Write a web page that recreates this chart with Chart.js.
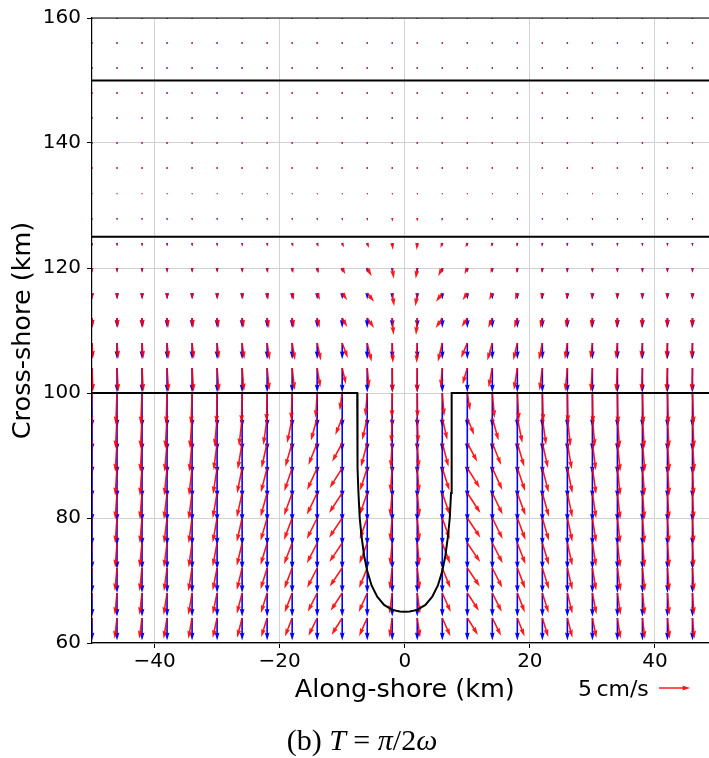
<!DOCTYPE html>
<html>
<head>
<meta charset="utf-8">
<script src="https://cdn.jsdelivr.net/npm/chart.js@4.4.1/dist/chart.umd.min.js"></script>
<style>
  html, body { margin: 0; padding: 0; background: #fff; overflow: hidden; }
  #wrap { position: relative; width: 709px; height: 758px; overflow: hidden; }
  canvas { position: absolute; left: 0; top: 0; }
  #keylabel { position: absolute; left: 578px; top: 678px; font: 22px 'DejaVu Sans'; line-height: 22px; color: #000; white-space: nowrap; }
  #caption { position: absolute; left: 0; width: 724px; top: 725px; text-align: center; font: 30px 'Liberation Serif'; line-height: 30px; color: #000; white-space: nowrap; }
</style>
</head>
<body>
<div id="wrap">
  <canvas id="c" width="720" height="758"></canvas>
  <div id="keylabel">5&#8201;cm/s</div>
  <div id="caption">(b) <i>T</i> = <i>π</i>/2<i>ω</i></div>
</div>
<script>
// Sample grid (km)
const xs = [-50,-46,-42,-38,-34,-30,-26,-22,-18,-14,-10,-6,-2,2,6,10,14,18,22,26,30,34,38,42,46,50];
const ys = [160,156,152,148,144,140,136,132,128,124,120,116,112,108,104,100,96,92,88,84,80,76,72,68,64,60];

// Flat-shelf reference current: cross-shore component per row (cm/s), along-shore component is zero
const blueV = [-0.05,-0.06,-0.08,-0.1,-0.12,-0.15,-0.2,-0.28,-0.4,-0.55,-0.75,-1.05,-1.6,-2.6,-3.9,-5.5,-5.3,-5.05,-4.85,-4.6,-4.4,-4.2,-4.0,-3.8,-3.6,-3.4];

// Current with the canyon: along-shore component (cm/s), one row per entry of ys
const redU = [
  [0,0,0,0,0,0,0,0,0,0,0,0,0,0,0,0,0,0,0,0,0,0,0,0,0,0],
  [0,0,0,0,0,0,0,0,0,0,0,0,0,0,0,0,0,0,0,0,0,0,0,0,0,0],
  [0,0,0,0,0,0,0,0,0,0,0,0,0,0,0,0,0,0,0,0,0,0,0,0,0,0],
  [0,0,0,0,0,0,0,0,0,0,0,0,0,0,0,0,0,0,0,0,0,0,0,0,0,0],
  [0,0,0,0,0,0,0,0,0,0,0,0,0,0,0,0,0,0,0,0,0,0,0,0,0,0],
  [0,0,0,0,0,0,0,0,0,0,0,0,0,0,0,0,0,0,0,0,0,0,0,0,0,0],
  [0,0,0,0,0,0,0,0,0,0,0,0,0,0,0,0,0,0,0,0,0,0,0,0,0,0],
  [0,0,0,0,0,0,0,0,0,0,0.05,0.05,0,0,-0.05,-0.05,0,0,0,0,0,0,0,0,0,0],
  [0,0,0,0,0,0,0,0.02,0.03,0.05,0.1,0.1,0.03,-0.03,-0.1,-0.1,-0.05,-0.03,-0.02,0,0,0,0,0,0,0],
  [0.05,0.05,0.05,0.05,0.05,0.1,0.1,0.15,0.2,0.25,0.3,0.3,0.1,-0.1,-0.3,-0.3,-0.25,-0.2,-0.15,-0.1,-0.1,-0.05,-0.05,-0.05,-0.05,-0.05],
  [0.05,0.05,0.05,0.05,0.05,0.1,0.1,0.15,0.2,0.3,0.5,0.7,0.25,-0.25,-0.65,-0.45,-0.3,-0.2,-0.15,-0.1,-0.05,-0.05,-0.05,-0.05,-0.05,-0.05],
  [0.05,0.05,0.05,0.05,0.05,0.1,0.15,0.2,0.3,0.45,0.8,1.1,0.3,-0.3,-1.0,-0.75,-0.5,-0.35,-0.2,-0.15,-0.1,-0.05,-0.05,-0.05,-0.05,-0.05],
  [0.1,0.15,0.15,0.2,0.2,0.25,0.3,0.3,0.3,0.4,0.8,1.1,0.2,-0.2,-1.05,-0.9,-0.65,-0.5,-0.35,-0.25,-0.2,-0.15,-0.15,-0.1,-0.1,-0.1],
  [0.15,0.2,0.2,0.25,0.3,0.3,0.35,0.4,0.45,0.6,0.9,0.7,0.1,-0.1,-0.7,-1.0,-0.8,-0.65,-0.55,-0.4,-0.3,-0.25,-0.2,-0.15,-0.15,-0.1],
  [0.15,0.2,0.2,0.25,0.25,0.3,0.3,0.35,0.4,0.5,0.6,0.3,0.05,-0.05,-0.25,-0.75,-0.6,-0.55,-0.45,-0.35,-0.25,-0.2,-0.15,-0.15,-0.1,-0.1],
  [-0.2,-0.2,-0.2,-0.15,-0.15,-0.1,-0.1,-0.1,-0.15,-0.25,-0.4,-0.3,-0.05,0.05,0.3,0.45,0.35,0.25,0.15,0.1,0.1,0.1,0.15,0.15,0.2,0.2],
  [-0.2,-0.25,-0.25,-0.3,-0.35,-0.4,-0.5,-0.6,-0.8,-1.0,-1.1,-0.8,-0.15,0.15,0.8,1.1,1.0,0.8,0.6,0.5,0.4,0.35,0.3,0.25,0.25,0.2],
  [-0.25,-0.3,-0.3,-0.4,-0.45,-0.55,-0.7,-0.9,-1.1,-1.4,-1.6,-1.0,-0.25,0.25,1.0,1.6,1.4,1.1,0.9,0.7,0.55,0.45,0.4,0.3,0.3,0.25],
  [-0.3,-0.3,-0.35,-0.45,-0.5,-0.65,-0.8,-1.0,-1.25,-1.6,-2.0,-1.15,-0.3,0.3,1.15,2.0,1.6,1.25,1.0,0.8,0.6,0.45,0.35,0.3,0.2,0.2],
  [-0.3,-0.3,-0.35,-0.5,-0.55,-0.7,-0.85,-1.05,-1.3,-1.65,-2.1,-1.2,-0.35,0.35,1.2,2.1,1.65,1.3,1.05,0.8,0.6,0.45,0.35,0.25,0.2,0.2],
  [-0.3,-0.3,-0.35,-0.5,-0.55,-0.7,-0.85,-1.05,-1.3,-1.65,-2.1,-1.2,-0.35,0.35,1.2,2.1,1.65,1.3,1.05,0.8,0.6,0.45,0.35,0.25,0.2,0.2],
  [-0.3,-0.3,-0.4,-0.5,-0.55,-0.7,-0.85,-1.05,-1.3,-1.65,-2.05,-1.25,-0.35,0.35,1.25,2.05,1.65,1.3,1.05,0.8,0.6,0.45,0.35,0.3,0.2,0.2],
  [-0.3,-0.35,-0.4,-0.5,-0.6,-0.7,-0.85,-1.05,-1.25,-1.6,-2.0,-1.3,-0.4,0.4,1.3,2.0,1.6,1.25,1.05,0.8,0.6,0.5,0.4,0.3,0.25,0.2],
  [-0.35,-0.35,-0.4,-0.55,-0.6,-0.7,-0.85,-1.0,-1.2,-1.5,-1.85,-1.35,-0.45,0.45,1.35,1.85,1.5,1.2,1.0,0.8,0.65,0.5,0.4,0.3,0.25,0.25],
  [-0.35,-0.4,-0.45,-0.55,-0.6,-0.7,-0.8,-0.95,-1.15,-1.4,-1.7,-1.3,-0.45,0.45,1.3,1.7,1.4,1.15,0.95,0.8,0.65,0.5,0.4,0.35,0.3,0.25],
  [-0.35,-0.4,-0.45,-0.55,-0.6,-0.7,-0.8,-0.9,-1.1,-1.3,-1.55,-1.2,-0.4,0.4,1.2,1.55,1.3,1.1,0.9,0.75,0.65,0.5,0.4,0.35,0.3,0.25]
];

// Current with the canyon: cross-shore component (cm/s)
const redV = [
  [-0.05,-0.05,-0.05,-0.05,-0.05,-0.05,-0.05,-0.05,-0.05,-0.05,-0.05,-0.05,-0.05,-0.05,-0.05,-0.05,-0.05,-0.05,-0.05,-0.05,-0.05,-0.05,-0.05,-0.05,-0.05,-0.05],
  [-0.06,-0.06,-0.06,-0.06,-0.06,-0.06,-0.06,-0.06,-0.06,-0.06,-0.06,-0.06,-0.06,-0.06,-0.06,-0.06,-0.06,-0.06,-0.06,-0.06,-0.06,-0.06,-0.06,-0.06,-0.06,-0.06],
  [-0.08,-0.08,-0.08,-0.08,-0.08,-0.08,-0.08,-0.08,-0.08,-0.08,-0.08,-0.08,-0.08,-0.08,-0.08,-0.08,-0.08,-0.08,-0.08,-0.08,-0.08,-0.08,-0.08,-0.08,-0.08,-0.08],
  [-0.1,-0.1,-0.1,-0.1,-0.1,-0.1,-0.1,-0.1,-0.1,-0.1,-0.1,-0.1,-0.1,-0.1,-0.1,-0.1,-0.1,-0.1,-0.1,-0.1,-0.1,-0.1,-0.1,-0.1,-0.1,-0.1],
  [-0.12,-0.12,-0.12,-0.12,-0.12,-0.12,-0.12,-0.12,-0.12,-0.12,-0.12,-0.12,-0.12,-0.12,-0.12,-0.12,-0.12,-0.12,-0.12,-0.12,-0.12,-0.12,-0.12,-0.12,-0.12,-0.12],
  [-0.15,-0.15,-0.15,-0.15,-0.15,-0.15,-0.15,-0.15,-0.15,-0.15,-0.15,-0.15,-0.15,-0.15,-0.15,-0.15,-0.15,-0.15,-0.15,-0.15,-0.15,-0.15,-0.15,-0.15,-0.15,-0.15],
  [-0.2,-0.2,-0.2,-0.2,-0.2,-0.2,-0.2,-0.2,-0.2,-0.2,-0.2,-0.2,-0.25,-0.25,-0.2,-0.2,-0.2,-0.2,-0.2,-0.2,-0.2,-0.2,-0.2,-0.2,-0.2,-0.2],
  [-0.28,-0.28,-0.28,-0.28,-0.28,-0.28,-0.28,-0.28,-0.28,-0.28,-0.28,-0.3,-0.35,-0.35,-0.3,-0.28,-0.28,-0.28,-0.28,-0.28,-0.28,-0.28,-0.28,-0.28,-0.28,-0.28],
  [-0.38,-0.38,-0.38,-0.38,-0.38,-0.38,-0.38,-0.38,-0.38,-0.4,-0.42,-0.48,-0.6,-0.6,-0.48,-0.42,-0.4,-0.38,-0.38,-0.38,-0.38,-0.38,-0.38,-0.38,-0.38,-0.38],
  [-0.5,-0.5,-0.5,-0.5,-0.5,-0.5,-0.5,-0.55,-0.55,-0.6,-0.7,-0.8,-1.1,-1.1,-0.8,-0.7,-0.6,-0.55,-0.55,-0.5,-0.5,-0.5,-0.5,-0.5,-0.5,-0.5],
  [-0.7,-0.7,-0.7,-0.7,-0.7,-0.7,-0.7,-0.75,-0.8,-0.85,-1.0,-1.3,-1.7,-1.7,-1.3,-1.0,-0.85,-0.8,-0.75,-0.7,-0.7,-0.7,-0.7,-0.7,-0.7,-0.7],
  [-1.0,-1.0,-1.0,-1.0,-1.0,-1.0,-1.0,-1.05,-1.1,-1.1,-1.15,-1.4,-2.1,-2.1,-1.4,-1.15,-1.1,-1.1,-1.05,-1.0,-1.0,-1.0,-1.0,-1.0,-1.0,-1.0],
  [-1.55,-1.55,-1.55,-1.55,-1.55,-1.55,-1.55,-1.6,-1.6,-1.55,-1.45,-1.6,-2.7,-2.7,-1.6,-1.45,-1.55,-1.6,-1.6,-1.55,-1.55,-1.55,-1.55,-1.55,-1.55,-1.55],
  [-2.5,-2.5,-2.5,-2.5,-2.5,-2.5,-2.6,-2.7,-2.75,-2.8,-2.4,-3.0,-3.2,-3.2,-3.0,-2.4,-2.8,-2.75,-2.7,-2.6,-2.5,-2.5,-2.5,-2.5,-2.5,-2.5],
  [-3.8,-3.8,-3.8,-3.8,-3.8,-3.8,-3.7,-3.6,-3.5,-3.1,-2.6,-3.1,-3.9,-3.9,-3.1,-2.6,-3.1,-3.5,-3.6,-3.7,-3.8,-3.8,-3.8,-3.8,-3.8,-3.8],
  [-5.0,-5.0,-5.0,-5.0,-5.0,-4.9,-4.8,-4.6,-4.4,-4.0,-2.8,-3.7,-4.0,-4.0,-3.7,-2.8,-4.0,-4.4,-4.6,-4.8,-4.9,-5.0,-5.0,-5.0,-5.0,-5.0],
  [-4.85,-4.85,-4.85,-4.85,-4.85,-4.6,-4.5,-4.3,-4.0,-3.6,-2.7,-3.5,-4.0,-4.0,-3.5,-2.7,-3.6,-4.0,-4.3,-4.5,-4.6,-4.85,-4.85,-4.85,-4.85,-4.85],
  [-4.6,-4.6,-4.6,-4.6,-4.6,-4.35,-4.2,-4.0,-3.8,-3.5,-3.0,-3.8,-4.0,-4.0,-3.8,-3.0,-3.5,-3.8,-4.0,-4.2,-4.35,-4.6,-4.6,-4.6,-4.6,-4.6],
  [-4.4,-4.4,-4.4,-4.4,-4.4,-4.2,-4.05,-3.9,-3.7,-3.5,-3.2,-3.6,-3.9,-3.9,-3.6,-3.2,-3.5,-3.7,-3.9,-4.05,-4.2,-4.4,-4.4,-4.4,-4.4,-4.4],
  [-4.2,-4.2,-4.2,-4.2,-4.2,-4.05,-3.9,-3.8,-3.6,-3.45,-3.2,-3.5,-3.8,-3.8,-3.5,-3.2,-3.45,-3.6,-3.8,-3.9,-4.05,-4.2,-4.2,-4.2,-4.2,-4.2],
  [-4.05,-4.05,-4.05,-4.05,-4.05,-3.9,-3.8,-3.65,-3.5,-3.35,-3.15,-3.4,-3.7,-3.7,-3.4,-3.15,-3.35,-3.5,-3.65,-3.8,-3.9,-4.05,-4.05,-4.05,-4.05,-4.05],
  [-3.9,-3.9,-3.9,-3.9,-3.9,-3.75,-3.65,-3.5,-3.4,-3.25,-3.05,-3.3,-3.6,-3.6,-3.3,-3.05,-3.25,-3.4,-3.5,-3.65,-3.75,-3.9,-3.9,-3.9,-3.9,-3.9],
  [-3.7,-3.7,-3.7,-3.7,-3.7,-3.6,-3.5,-3.4,-3.3,-3.15,-2.95,-3.2,-3.45,-3.45,-3.2,-2.95,-3.15,-3.3,-3.4,-3.5,-3.6,-3.7,-3.7,-3.7,-3.7,-3.7],
  [-3.5,-3.5,-3.5,-3.5,-3.5,-3.4,-3.3,-3.2,-3.1,-3.0,-2.85,-3.05,-3.3,-3.3,-3.05,-2.85,-3.0,-3.1,-3.2,-3.3,-3.4,-3.5,-3.5,-3.5,-3.5,-3.5],
  [-3.3,-3.3,-3.3,-3.3,-3.3,-3.2,-3.15,-3.05,-2.95,-2.85,-2.7,-2.9,-3.1,-3.1,-2.9,-2.7,-2.85,-2.95,-3.05,-3.15,-3.2,-3.3,-3.3,-3.3,-3.3,-3.3],
  [-3.1,-3.1,-3.1,-3.1,-3.1,-3.0,-2.95,-2.9,-2.8,-2.7,-2.6,-2.75,-2.9,-2.9,-2.75,-2.6,-2.7,-2.8,-2.9,-2.95,-3.0,-3.1,-3.1,-3.1,-3.1,-3.1]
];

// Isobaths (km): shelf edge with the canyon, and two offshore contours
const coastX = [-50,-7.6,-7.6,-7.5,-7.4,-7.2,-6.9,-6.5,-6.0,-5.3,-4.4,-3.3,-2.0,-0.8,0,0.8,2.0,3.3,4.4,5.3,6.0,6.5,6.9,7.2,7.4,7.5,7.5,50];
const coastY = [100,100,94,88,84,80,77,74,71.5,69.2,67.4,66.1,65.3,65.05,65,65.05,65.3,66.1,67.4,69.2,71.5,74,77,80,84,88,100,100];
const isobathY = [125, 150];

const xTicks = [-40,-20,0,20,40];
const yTicks = [60,80,100,120,140,160];

// Quiver settings: arrow length in km per cm/s, reference arrow value
const KM_PER_CMS = 1.0;
const KEY_VALUE = 5;
const SHAFT = 1.6, HEAD_W = 3, HEAD_LEN = 5, HEAD_AXIS = 4.5;
const BLUE = 'rgba(0,0,255,1)';
const RED = 'rgba(255,0,0,0.9)';

function drawArrow(ctx, x0, y0, x1, y1, color) {
  const dx = x1 - x0, dy = y1 - y0;
  const L = Math.hypot(dx, dy);
  ctx.fillStyle = color;
  if (L < SHAFT) {
    ctx.beginPath();
    for (let k = 0; k < 6; k++) {
      const a = Math.PI / 3 * k;
      const px = x0 + 0.5 * SHAFT * Math.cos(a), py = y0 + 0.5 * SHAFT * Math.sin(a);
      k ? ctx.lineTo(px, py) : ctx.moveTo(px, py);
    }
    ctx.closePath(); ctx.fill();
    return;
  }
  const hl = HEAD_LEN * SHAFT, hal = HEAD_AXIS * SHAFT, hw = HEAD_W * SHAFT / 2, sw = SHAFT / 2;
  let s = 1, len = L;
  if (L < hl) { s = L / hl; len = hl; }
  const pts = [[0, -sw], [len - hal, -sw], [len - hl, -hw], [len, 0], [len - hl, hw], [len - hal, sw], [0, sw]];
  const c = dx / L, sn = dy / L;
  ctx.beginPath();
  pts.forEach(([px, py], i) => {
    const X = x0 + s * (px * c - py * sn), Y = y0 + s * (px * sn + py * c);
    i ? ctx.lineTo(X, Y) : ctx.moveTo(X, Y);
  });
  ctx.closePath();
  ctx.fill();
}

const quiverPlugin = {
  id: 'quiver',
  beforeDatasetsDraw(chart) {
    const { ctx, chartArea: a, scales: { x: sx, y: sy } } = chart;
    ctx.save();
    ctx.beginPath();
    ctx.rect(a.left, a.top, a.right - a.left, a.bottom - a.top);
    ctx.clip();
    ys.forEach((y, r) => xs.forEach((x) => {
      drawArrow(ctx, sx.getPixelForValue(x), sy.getPixelForValue(y),
        sx.getPixelForValue(x), sy.getPixelForValue(y + blueV[r] * KM_PER_CMS), BLUE);
    }));
    ys.forEach((y, r) => xs.forEach((x, c) => {
      drawArrow(ctx, sx.getPixelForValue(x), sy.getPixelForValue(y),
        sx.getPixelForValue(x + redU[r][c] * KM_PER_CMS), sy.getPixelForValue(y + redV[r][c] * KM_PER_CMS), RED);
    }));
    ctx.restore();
  },
  afterDraw(chart) {
    const { ctx, chartArea: a, scales: { x: sx } } = chart;
    ctx.save();
    ctx.strokeStyle = '#000';
    ctx.lineWidth = 1.2;
    ctx.beginPath();
    ctx.moveTo(a.left, a.top); ctx.lineTo(a.right, a.top);
    ctx.moveTo(a.right, a.top); ctx.lineTo(a.right, a.bottom);
    ctx.stroke();
    // reference arrow
    const keyLen = sx.getPixelForValue(KEY_VALUE * KM_PER_CMS) - sx.getPixelForValue(0);
    const kx = a.right - 58.5, ky = a.bottom + 45;
    drawArrow(ctx, kx, ky, kx + keyLen, ky, RED);
    ctx.restore();
  }
};

const lineStyle = { showLine: true, borderColor: '#000', borderWidth: 2, pointRadius: 0, fill: false, tension: 0 };
const datasets = [
  Object.assign({ data: coastX.map((x, i) => ({ x, y: coastY[i] })) }, lineStyle),
  ...isobathY.map(y => Object.assign({ data: [{ x: -50, y }, { x: 50, y }] }, lineStyle))
];

const fmt = v => (v < 0 ? '\u2212' + Math.abs(v) : String(v));
const tickFont = { family: 'DejaVu Sans', size: 20 };
const titleFont = { family: 'DejaVu Sans', size: 25.5 };

new Chart(document.getElementById('c'), {
  type: 'scatter',
  data: { datasets },
  options: {
    responsive: false,
    animation: false,
    devicePixelRatio: 1,
    layout: { padding: { left: 0, right: 2.5, top: 18, bottom: 0 } },
    plugins: { legend: { display: false }, tooltip: { enabled: false } },
    scales: {
      x: {
        type: 'linear', min: -50, max: 50,
        afterBuildTicks: s => { s.ticks = xTicks.map(v => ({ value: v })); },
        afterFit: s => { s.height = 115; },
        grid: { color: '#d2d2d2', lineWidth: 1, tickColor: '#000', tickLength: 5, tickWidth: 1 },
        border: { display: true, color: '#000', width: 1.2 },
        ticks: { font: tickFont, color: '#000', padding: 2, maxRotation: 0, callback: fmt },
        title: { display: true, text: 'Along-shore (km)', font: titleFont, color: '#000', padding: { top: 0, bottom: 52 } }
      },
      y: {
        type: 'linear', min: 60, max: 160,
        afterBuildTicks: s => { s.ticks = yTicks.map(v => ({ value: v })); },
        afterFit: s => { s.width = 92; },
        grid: { color: '#d2d2d2', lineWidth: 1, tickColor: '#000', tickLength: 5, tickWidth: 1 },
        border: { display: true, color: '#000', width: 1.2 },
        ticks: { font: tickFont, color: '#000', padding: 6, callback: fmt },
        title: { display: true, text: 'Cross-shore (km)', font: titleFont, color: '#000', padding: { top: 8, bottom: 0 } }
      }
    }
  },
  plugins: [quiverPlugin]
});
</script>
</body>
</html>
